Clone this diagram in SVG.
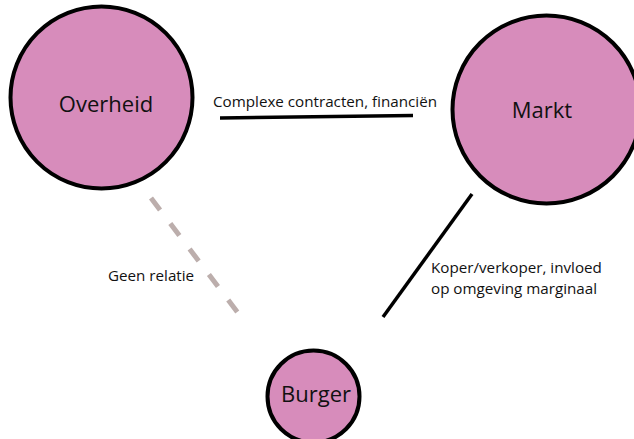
<svg xmlns="http://www.w3.org/2000/svg" width="634" height="439" viewBox="0 0 634 439">
<style>
.node{fill:#d78cbb;stroke:#000;stroke-width:4}
.nl{font-family:"Open Sans","Noto Sans",sans-serif;fill:#111;text-anchor:middle}
.el{font-family:"Open Sans","Noto Sans",sans-serif;fill:#111;font-size:15.2px}
</style>
<rect width="634" height="439" fill="#fff"/>
<g id="connectors">
<line x1="220" y1="118" x2="413" y2="115.5" stroke="#000" stroke-width="3.5"/>
<line x1="151" y1="198" x2="238" y2="313" stroke="#bcaeac" stroke-width="5" stroke-dasharray="15 17"/>
<line x1="472" y1="194" x2="383" y2="317" stroke="#000" stroke-width="3.5"/>
<text class="el" x="213" y="107">Complexe contracten, financiën</text>
<text class="el" x="108" y="281">Geen relatie</text>
<text class="el" x="431" y="273">Koper/verkoper, invloed</text>
<text class="el" x="431" y="294">op omgeving marginaal</text>
</g>
<g id="overheid">
<circle class="node" cx="101.5" cy="97.5" r="91"/>
<text class="nl" x="106" y="112" font-size="22">Overheid</text>
</g>
<g id="markt">
<circle class="node" cx="546.5" cy="109.5" r="94"/>
<text class="nl" x="542" y="118" font-size="22">Markt</text>
</g>
<g id="burger">
<circle class="node" cx="313.5" cy="396.5" r="46"/>
<text class="nl" x="316" y="402" font-size="22">Burger</text>
</g>
</svg>
